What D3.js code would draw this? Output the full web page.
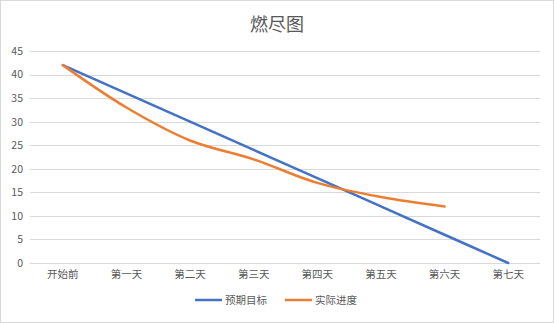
<!DOCTYPE html>
<html>
<head>
<meta charset="utf-8">
<script src="https://cdn.jsdelivr.net/npm/d3@7/dist/d3.min.js"></script>
<style>
  html, body { margin: 0; padding: 0; background: #fff; }
  text { font-family: "Noto Sans CJK SC", "Noto Sans", sans-serif; }
</style>
</head>
<body>
<svg id="chart" width="554" height="323"></svg>
<script>
const categories = ["开始前", "第一天", "第二天", "第三天", "第四天", "第五天", "第六天", "第七天"];
const planned = [42, 36, 30, 24, 18, 12, 6, 0];
const actual = [42, 33, 26, 22, 17, 14, 12];
const yTicks = [0, 5, 10, 15, 20, 25, 30, 35, 40, 45];
const seriesNames = ["预期目标", "实际进度"];
const seriesColors = ["#4472C4", "#ED7D31"];

const W = 554, H = 323;
const svg = d3.select("#chart");

// chart frame
svg.append("rect")
  .attr("x", 0.5).attr("y", 0.5)
  .attr("width", W - 1).attr("height", H - 1)
  .attr("fill", "#fff").attr("stroke", "#D9D9D9");

const plot = { left: 31, right: 540, top: 51, bottom: 263 };

const x = d3.scaleBand().domain(categories).range([plot.left, plot.right]);
const y = d3.scaleLinear().domain([0, 45]).range([plot.bottom, plot.top]);

// title
svg.append("text")
  .attr("x", W / 2).attr("y", 31)
  .attr("text-anchor", "middle")
  .attr("font-size", 18)
  .attr("fill", "#595959")
  .text("燃尽图");

// horizontal gridlines
svg.append("g").selectAll("line").data(yTicks).join("line")
  .attr("x1", plot.left - 1).attr("x2", plot.right)
  .attr("y1", d => Math.round(y(d)) + 0.5).attr("y2", d => Math.round(y(d)) + 0.5)
  .attr("stroke", "#D9D9D9").attr("stroke-width", 1);

// y axis labels
const yAxis = d3.axisLeft(y).tickValues(yTicks).tickSize(0).tickPadding(6);
const gy = svg.append("g").attr("transform", `translate(${plot.left - 1},0)`).call(yAxis);
gy.select(".domain").remove();
gy.selectAll("text")
  .attr("font-size", 10.5).attr("fill", "#595959")
  .style("font-family", '"Noto Sans CJK SC", "Noto Sans", sans-serif')
  .attr("text-anchor", "end").attr("x", -7);

// x axis labels
const xAxis = d3.axisBottom(x).tickSize(0).tickPadding(8);
const gx = svg.append("g").attr("transform", `translate(0,${plot.bottom})`).call(xAxis);
gx.select(".domain").remove();
gx.selectAll("text")
  .attr("font-size", 10.5).attr("fill", "#595959")
  .style("font-family", '"Noto Sans CJK SC", "Noto Sans", sans-serif');

// series lines
const cx = i => x(categories[i]) + x.bandwidth() / 2;
const line = d3.line()
  .x((d, i) => cx(i))
  .y(d => y(d))
  .curve(d3.curveCatmullRom.alpha(0.5));

[planned, actual].forEach((vals, k) => {
  svg.append("path")
    .datum(vals)
    .attr("d", line)
    .attr("fill", "none")
    .attr("stroke", seriesColors[k])
    .attr("stroke-width", 2.5)
    .attr("stroke-linecap", "round")
    .attr("stroke-linejoin", "round");
});

// legend
const legend = svg.append("g").attr("transform", "translate(0,300)");
const legendX = [195, 285];
seriesNames.forEach((name, k) => {
  const g = legend.append("g").attr("transform", `translate(${legendX[k]},0)`);
  g.append("line")
    .attr("x1", 0).attr("x2", 27).attr("y1", 0).attr("y2", 0)
    .attr("stroke", seriesColors[k]).attr("stroke-width", 2.5);
  g.append("text")
    .attr("x", 30).attr("y", 4)
    .attr("font-size", 10.5).attr("fill", "#595959")
    .text(name);
});
</script>
</body>
</html>
